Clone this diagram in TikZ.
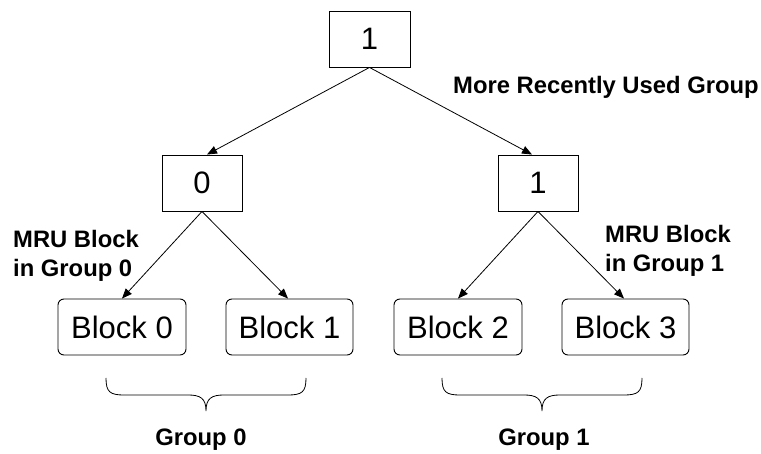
\documentclass[tikz,border=0pt]{standalone}
\usepackage{fontspec}
\setmainfont{Liberation Sans}
\usetikzlibrary{arrows.meta}
\begin{document}
\begin{tikzpicture}[x=1pt,y=-1pt,
  sqbox/.style={draw,line width=0.9pt,minimum width=81pt,minimum height=56pt,
    inner sep=0pt,font=\fontsize{31}{36}\selectfont},
  blockbox/.style={draw,line width=0.9pt,rounded corners=6pt,minimum width=128pt,
    minimum height=56pt,inner sep=0pt,font=\fontsize{31}{36}\selectfont},
  lbl/.style={inner sep=0pt,font=\fontsize{23.8}{28}\selectfont\bfseries},
  link/.style={line width=0.8pt,-{Triangle[length=10pt,width=8pt]}},
  gbrace/.pic={
    \draw[line width=0.8pt] (-100,0) .. controls (-100,14) and (-96,17) .. (-82,17)
      -- (-18,17) .. controls (-6,17) and (0,20) .. (0,33)
      .. controls (0,20) and (6,17) .. (18,17)
      -- (82,17) .. controls (96,17) and (100,14) .. (100,0);
  }]
\useasboundingbox (0,0) rectangle (761,454);

% tree nodes
\node[sqbox] (root) at (369.5,39) {1};
\node[sqbox,minimum width=80pt] (g0) at (202,183) {0};
\node[sqbox,minimum width=80pt] (g1) at (538,183) {1};
\node[blockbox] (b0) at (122,327) {Block 0};
\node[blockbox,minimum width=127pt] (b1) at (289.5,327) {Block 1};
\node[blockbox] (b2) at (458,327) {Block 2};
\node[blockbox,minimum width=127pt] (b3) at (625.5,327) {Block 3};

% connectors
\draw[link] (root.south) -- ([xshift=5pt]g0.north);
\draw[link] (root.south) -- ([xshift=-6pt]g1.north);
\draw[link] (g0.south) -- (b0.north);
\draw[link] (g0.south) -- ([xshift=-1.5pt]b1.north);
\draw[link] (g1.south) -- (b2.north);
\draw[link] (g1.south) -- ([xshift=-1.5pt]b3.north);

% annotations
\node[lbl,anchor=base west] (mrg) at (453,94) {More Recently Used Group};
\node[lbl,anchor=base west] (mru0a) at (13,248) {MRU Block};
\node[lbl,anchor=base west] (mru0b) at (13,277) {in Group 0};
\node[lbl,anchor=base west] (mru1a) at (605,243) {MRU Block};
\node[lbl,anchor=base west] (mru1b) at (605,272) {in Group 1};

% group braces
\pic at (206,378) {gbrace};
\pic at (542,378) {gbrace};
\node[lbl,anchor=base] (grp0) at (201,446) {Group 0};
\node[lbl,anchor=base] (grp1) at (544,446) {Group 1};
\end{tikzpicture}
\end{document}
